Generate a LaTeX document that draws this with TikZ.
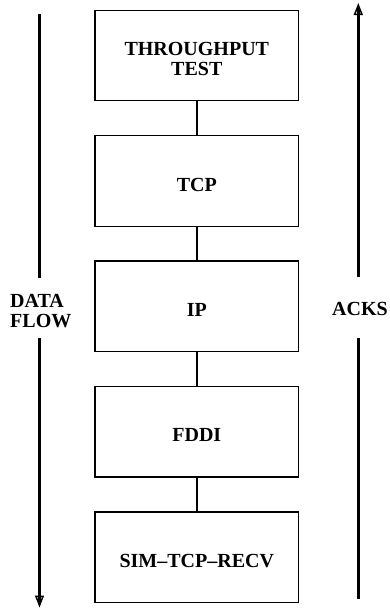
\documentclass[tikz,border=0pt]{standalone}
\usepackage{fontspec}
\setmainfont{Liberation Serif}
\usetikzlibrary{arrows.meta}

\begin{document}
\begin{tikzpicture}[x=1pt, y=-1pt,
  layer/.style={draw, line width=1.3pt, minimum width=203.7pt,
    minimum height=90.5pt, inner sep=0pt},
  tag/.style={font=\fontsize{20}{20}\selectfont\bfseries, align=center, inner sep=0pt},
  sidetag/.style={font=\fontsize{20}{20}\selectfont\bfseries, inner sep=0pt},
  link/.style={line width=2.6pt},
  flow/.style={line width=2.6pt},
  head/.style={flow, -{Triangle[open, length=12pt, width=9pt, line width=1.5pt]}}]

  \useasboundingbox (0,0) rectangle (390,608);

  % protocol stack
  \node[layer] (thr)  at (196.8, 55.5)  {};
  \node[layer] (tcp)  at (196.8, 180.9) {};
  \node[layer] (ip)   at (196.8, 306.3) {};
  \node[layer] (fddi) at (196.8, 431.7) {};
  \node[layer] (sim)  at (196.8, 557.1) {};

  \node[tag] (thr-t)  at ([yshift=-3.6pt]thr.center)  {THROUGHPUT\\TEST};
  \node[tag] (tcp-t)  at ([yshift=-3.6pt]tcp.center)  {TCP};
  \node[tag] (ip-t)   at ([yshift=-3.6pt]ip.center)   {IP};
  \node[tag] (fddi-t) at ([yshift=-3.6pt]fddi.center) {FDDI};
  \node[tag] (sim-t)  at ([yshift=-3.6pt]sim.center)  {SIM–TCP–RECV};

  \draw[link] (thr.south)  -- (tcp.north);
  \draw[link] (tcp.south)  -- (ip.north);
  \draw[link] (ip.south)   -- (fddi.north);
  \draw[link] (fddi.south) -- (sim.north);

  % downward data flow on the left
  \node[sidetag, align=left, anchor=west] (data) at (10, 311) {DATA\\FLOW};
  \coordinate (d0) at (39.5, 14);
  \coordinate (d1) at (39.5, 278.3);
  \coordinate (d2) at (39.5, 338.3);
  \coordinate (d3) at (39.5, 607.5);
  \coordinate (d3s) at (39.5, 603);
  \draw[flow] (d0) -- (d1);
  \draw[flow] (d2) -- (d3s);
  \draw[head] (d2) -- (d3);

  % upward acknowledgements on the right
  \node[sidetag] (acks) at (360, 308.7) {ACKS};
  \coordinate (a0) at (358.3, 599);
  \coordinate (a1) at (358.3, 338.3);
  \coordinate (a2) at (358.3, 276.7);
  \coordinate (a3) at (358.3, 3);
  \coordinate (a3s) at (358.3, 7.5);
  \draw[flow] (a0) -- (a1);
  \draw[flow] (a2) -- (a3s);
  \draw[head] (a2) -- (a3);
\end{tikzpicture}
\end{document}
